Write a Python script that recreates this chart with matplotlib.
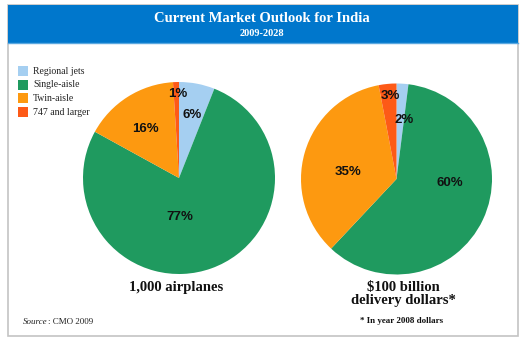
import matplotlib
matplotlib.use("Agg")
import matplotlib.pyplot as plt
import numpy as np
from matplotlib.patches import Rectangle

categories = ["Regional jets", "Single-aisle", "Twin-aisle", "747 and larger"]
airplanes_pct = [6, 77, 16, 1]
dollars_pct = [2, 60, 35, 3]
colors = ["#a5cff1", "#1f9a5f", "#fd9910", "#fd5a17"]
title = "Current Market Outlook for India"
subtitle = "2009-2028"
left_caption = "1,000 airplanes"
right_caption = "$100 billion\ndelivery dollars*"
footnote = "* In year 2008 dollars"

W, H = 526, 340
fig = plt.figure(figsize=(W / 100, H / 100), dpi=100)
fig.patch.set_facecolor("white")

def px_box(x0, y0, w, h):
    return [x0 / W, 1 - (y0 + h) / H, w / W, h / H]

# frame and header
bg = fig.add_axes([0, 0, 1, 1])
bg.set_xlim(0, W)
bg.set_ylim(H, 0)
bg.axis("off")
bg.add_patch(Rectangle((7.5, 5), 510, 331, facecolor="white", edgecolor="#c4c4c4", lw=1.2))
bg.add_patch(Rectangle((7.5, 5), 510, 38, facecolor="#0077cc", edgecolor="none"))
bg.plot([7.5, 517.5], [43, 43], color="#5aa8e0", lw=1)
bg.text(262, 18, title, ha="center", va="center", color="white",
        fontsize=10.5, fontweight="bold", family="Liberation Serif")
bg.text(262, 33, subtitle, ha="center", va="center", color="white",
        fontsize=7.5, fontweight="bold", family="Liberation Serif")

# legend
for i, (c, lab) in enumerate(zip(colors, categories)):
    y = 71 + i * 13.7
    bg.add_patch(Rectangle((18, y - 5), 10, 10, facecolor=c, edgecolor="none"))
    bg.text(33, y, lab, ha="left", va="center", fontsize=7, family="Liberation Serif", color="#222222")

bg.text(176, 288, left_caption, ha="center", va="center", fontsize=10.5,
        fontweight="bold", family="Liberation Serif", color="#111111")
bg.text(403, 294, right_caption, ha="center", va="center", fontsize=10.5,
        fontweight="bold", family="Liberation Serif", color="#111111", linespacing=0.95)
bg.text(402, 321, footnote, ha="center", va="center", fontsize=6.5,
        fontweight="bold", family="Liberation Serif", color="#111111")
src = bg.text(23, 322, "Source", ha="left", va="center", fontsize=6.5, style="italic",
              family="Liberation Serif", color="#222222")
bg.annotate(": CMO 2009", xy=(1, 0.5), xycoords=src, ha="left", va="center",
            fontsize=6.5, family="Liberation Serif", color="#222222")

# label placement (angle deg, radius fraction)
left_pos = [(78.3, 0.67), (-88.5, 0.41), (124, 0.62), (90.7, 0.875)]
right_pos = [(82.8, 0.62), (-4.3, 0.56), (171.8, 0.51), (94.5, 0.87)]

def draw_pie(box, vals, pos):
    ax = fig.add_axes(box)
    ax.pie(vals, colors=colors, startangle=90, counterclock=False,
           wedgeprops=dict(linewidth=0))
    ax.set_xlim(-1, 1)
    ax.set_ylim(-1, 1)
    ax.set_aspect("equal")
    ax.axis("off")
    for v, (a, r) in zip(vals, pos):
        t = np.deg2rad(a)
        ax.text(r * np.cos(t), r * np.sin(t), f"{v}%", ha="center", va="center",
                fontsize=9.5, fontweight="bold", family="Liberation Sans", color="#111111")

draw_pie(px_box(83, 82, 192, 192), airplanes_pct, left_pos)
draw_pie(px_box(301, 83.5, 191, 191), dollars_pct, right_pos)

fig.savefig("out.png", dpi=100)
